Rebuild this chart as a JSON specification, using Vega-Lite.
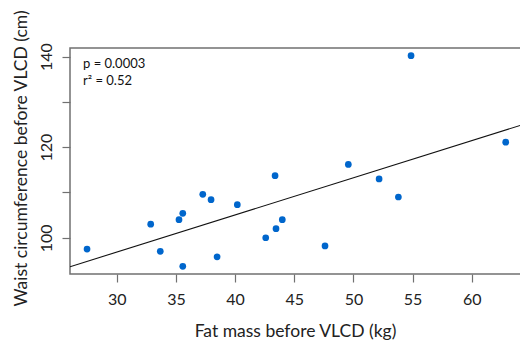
{
  "$schema": "https://vega.github.io/schema/vega-lite/v6.json",
  "autosize": "none",
  "padding": {"left": 70, "top": 48, "right": 0, "bottom": 69},
  "width": 455,
  "height": 226,
  "background": "white",
  "config": {
    "view": {"stroke": "#707070", "strokeWidth": 1.5},
    "font": "Lato",
    "axis": {
      "grid": false,
      "domain": false,
      "tickColor": "#707070",
      "tickWidth": 1.2,
      "tickSize": 8,
      "labelFont": "Lato",
      "titleFont": "Lato",
      "labelFontSize": 16,
      "titleFontSize": 17.5,
      "labelColor": "#222222",
      "titleColor": "#222222",
      "titleFontWeight": "normal"
    }
  },
  "datasets": {
    "pts": [
      {"fat": 27.49, "waist": 97.5},
      {"fat": 32.87, "waist": 103.0},
      {"fat": 33.68, "waist": 97.0},
      {"fat": 35.26, "waist": 104.0},
      {"fat": 35.58, "waist": 105.4},
      {"fat": 35.58, "waist": 93.7},
      {"fat": 37.27, "waist": 109.6},
      {"fat": 37.97, "waist": 108.4},
      {"fat": 38.48, "waist": 95.8},
      {"fat": 40.19, "waist": 107.3},
      {"fat": 43.38, "waist": 113.7},
      {"fat": 42.59, "waist": 100.0},
      {"fat": 43.46, "waist": 102.0},
      {"fat": 43.99, "waist": 104.0},
      {"fat": 47.6, "waist": 98.2},
      {"fat": 52.17, "waist": 113.0},
      {"fat": 53.8, "waist": 109.0},
      {"fat": 54.87, "waist": 140.2},
      {"fat": 62.87, "waist": 121.1},
      {"fat": 49.57, "waist": 116.2}
    ],
    "fit": [
      {"fat": 26.05, "waist": 93.6},
      {"fat": 64.5, "waist": 125.13}
    ],
    "notes": [
      {"fat": 27.15, "waist": 138.4, "label": "p = 0.0003"},
      {"fat": 27.15, "waist": 134.6, "label": "r² = 0.52"}
    ]
  },
  "encoding": {
    "x": {
      "field": "fat",
      "type": "quantitative",
      "scale": {"domain": [26.05, 64.5], "nice": false, "zero": false},
      "axis": {
        "title": "Fat mass before VLCD (kg)",
        "values": [30, 35, 40, 45, 50, 55, 60],
        "labelPadding": 9,
        "titlePadding": 15,
        "titleX": 225
      }
    },
    "y": {
      "field": "waist",
      "type": "quantitative",
      "scale": {"domain": [92, 141.9], "nice": false, "zero": false},
      "axis": {
        "title": "Waist circumference before VLCD (cm)",
        "values": [100, 110, 120, 130, 140],
        "labelExpr": "datum.value % 20 == 0 ? datum.label : ''",
        "labelAngle": -90,
        "labelAlign": "center",
        "labelBaseline": "bottom",
        "labelPadding": 8,
        "titleX": -49,
        "titleY": 110,
        "titleAlign": "center",
        "titleBaseline": "middle",
        "titleAngle": -90
      }
    }
  },
  "layer": [
    {
      "data": {"name": "fit"},
      "mark": {"type": "line", "color": "#111111", "strokeWidth": 1.1, "clip": true},
      "encoding": {}
    },
    {
      "data": {"name": "pts"},
      "mark": {"type": "circle", "color": "#0066CC", "opacity": 1, "size": 45},
      "encoding": {}
    },
    {
      "data": {"name": "notes"},
      "mark": {"type": "text", "align": "left", "baseline": "middle", "fontSize": 13, "font": "Lato", "color": "#111111"},
      "encoding": {"text": {"field": "label"}}
    }
  ]
}
